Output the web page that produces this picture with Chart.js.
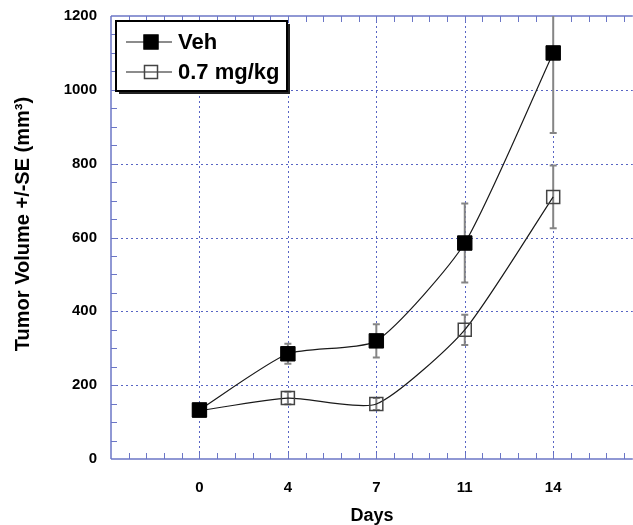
<!DOCTYPE html>
<html>
<head>
<meta charset="utf-8">
<script src="https://cdn.jsdelivr.net/npm/chart.js@4.4.1/dist/chart.umd.min.js"></script>
<style>
  html, body { margin: 0; padding: 0; background: #fff; overflow: hidden; }
  #wrap { width: 644px; height: 528px; position: relative; }
</style>
</head>
<body>
<div id="wrap"><canvas id="chart"></canvas></div>
<script>
const days = ['0', '4', '7', '11', '14'];
const vehMean = [133, 285, 320, 585, 1100];
const vehSE = [8, 27, 45, 107, 217];
const lowMean = [131, 165, 149, 350, 710];
const lowSE = [8, 17, 16, 41, 85];
const yTicks = [0, 200, 400, 600, 800, 1000, 1200];
const yTitle = 'Tumor Volume +/-SE (mm³)';

const FONT = "'Liberation Sans', Arial, Helvetica, sans-serif";
const AXIS_COLOR = '#6b76c6';
const GRID_COLOR = '#5865c4';

function line(ctx, x1, y1, x2, y2) {
  ctx.beginPath();
  ctx.moveTo(x1, y1);
  ctx.lineTo(x2, y2);
  ctx.stroke();
}

// dotted grid, axis frame with inward ticks, error bars
const framePlugin = {
  id: 'frame',
  beforeDatasetsDraw(chart) {
    const { ctx, chartArea: a, scales: { x, y } } = chart;
    ctx.save();

    ctx.strokeStyle = GRID_COLOR;
    ctx.lineWidth = 1;
    ctx.setLineDash([2, 3]);
    days.forEach((d, i) => {
      const px = Math.round(x.getPixelForValue(i)) + 0.5;
      line(ctx, px, a.top, px, a.bottom);
    });
    yTicks.forEach((v) => {
      if (v <= y.min || v >= y.max) return;
      const py = Math.round(y.getPixelForValue(v)) + 0.5;
      line(ctx, a.left, py, a.right, py);
    });
    ctx.setLineDash([]);

    ctx.strokeStyle = AXIS_COLOR;
    ctx.lineWidth = 1.5;
    line(ctx, a.left, a.top, a.right, a.top);
    line(ctx, a.left, a.bottom, a.right, a.bottom);
    line(ctx, a.left, a.top, a.left, a.bottom);

    ctx.lineWidth = 1;
    for (let k = -4; k <= 24; k++) {
      const px = Math.round(x.getPixelForValue(k / 5)) + 0.5;
      line(ctx, px, a.bottom, px, a.bottom - 6);
      line(ctx, px, a.top, px, a.top + 6);
    }
    for (let k = 1; k <= 23; k++) {
      const py = Math.round(y.getPixelForValue(k * 50)) + 0.5;
      line(ctx, a.left, py, a.left + 6, py);
    }

    ctx.beginPath();
    ctx.rect(a.left, a.top, a.right - a.left, a.bottom - a.top);
    ctx.clip();
    ctx.strokeStyle = '#858585';
    ctx.lineWidth = 2;
    [[lowMean, lowSE], [vehMean, vehSE]].forEach(([mean, se]) => {
      mean.forEach((m, i) => {
        const px = x.getPixelForValue(i);
        const top = y.getPixelForValue(m + se[i]);
        const bot = y.getPixelForValue(m - se[i]);
        line(ctx, px, top, px, bot);
        line(ctx, px - 3.5, top, px + 3.5, top);
        line(ctx, px - 3.5, bot, px + 3.5, bot);
      });
    });
    ctx.restore();
  }
};

// boxed legend with drop shadow, plus the rotated y title
const legendPlugin = {
  id: 'boxLegend',
  afterDraw(chart) {
    const { ctx, chartArea: a } = chart;
    const bx = a.left + 5, by = a.top + 5, bw = 171, bh = 70;
    ctx.save();
    ctx.fillStyle = '#222';
    ctx.fillRect(bx + 3, by + 3, bw, bh);
    ctx.fillStyle = '#fff';
    ctx.fillRect(bx, by, bw, bh);
    ctx.strokeStyle = '#000';
    ctx.lineWidth = 2;
    ctx.strokeRect(bx, by, bw, bh);

    chart.data.datasets.forEach((ds, i) => {
      const cy = by + 21 + i * 30;
      ctx.strokeStyle = ds.borderColor;
      ctx.lineWidth = 1.2;
      line(ctx, bx + 10, cy, bx + 56, cy);
      const s = ds.pointRadius * Math.SQRT2;
      ctx.fillStyle = ds.pointBackgroundColor;
      ctx.fillRect(bx + 35 - s / 2, cy - s / 2, s, s);
      ctx.strokeStyle = ds.pointBorderColor;
      ctx.lineWidth = ds.pointBorderWidth;
      ctx.strokeRect(bx + 35 - s / 2, cy - s / 2, s, s);
      ctx.fillStyle = '#000';
      ctx.font = `bold 22px ${FONT}`;
      ctx.textBaseline = 'middle';
      ctx.fillText(ds.label, bx + 62, cy + 1);
    });

    ctx.translate(23, 224);
    ctx.rotate(-Math.PI / 2);
    ctx.font = `bold 20px ${FONT}`;
    ctx.textAlign = 'center';
    ctx.textBaseline = 'middle';
    ctx.fillText(yTitle, 0, 0);
    ctx.restore();
  }
};

new Chart(document.getElementById('chart'), {
  type: 'line',
  data: {
    datasets: [
      {
        label: 'Veh',
        data: vehMean.map((v, i) => ({ x: i, y: v })),
        borderColor: '#1a1a1a',
        borderWidth: 1.2,
        tension: 0.2,
        pointStyle: 'rect',
        pointRadius: 10.2,
        pointBackgroundColor: '#000',
        pointBorderColor: '#000',
        pointBorderWidth: 1,
      },
      {
        label: '0.7 mg/kg',
        data: lowMean.map((v, i) => ({ x: i, y: v })),
        borderColor: '#1a1a1a',
        borderWidth: 1.2,
        tension: 0.2,
        pointStyle: 'rect',
        pointRadius: 9.2,
        pointBackgroundColor: 'rgba(0,0,0,0)',
        pointBorderColor: '#444',
        pointBorderWidth: 1.5,
      },
    ],
  },
  options: {
    responsive: true,
    maintainAspectRatio: false,
    animation: false,
    layout: { padding: { top: 16, right: 0, left: 0, bottom: 0 } },
    plugins: { legend: { display: false }, tooltip: { enabled: false } },
    scales: {
      x: {
        type: 'linear',
        min: -1,
        max: 4.9,
        grid: { display: false, tickLength: 20 },
        border: { display: false },
        afterFit(s) { s.height = 69; },
        ticks: {
          stepSize: 1,
          autoSkip: false,
          padding: 0,
          color: '#000',
          font: { family: FONT, size: 15, weight: 'bold' },
          callback: (v) => days[v] ?? '',
        },
        title: {
          display: true,
          text: 'Days',
          color: '#000',
          font: { family: FONT, size: 18, weight: 'bold' },
          padding: { top: 0, bottom: 1 },
        },
      },
      y: {
        min: 0,
        max: 1200,
        grid: { display: false, tickLength: 14 },
        border: { display: false },
        afterFit(s) { s.width = 111; },
        ticks: {
          stepSize: 200,
          padding: 0,
          color: '#000',
          font: { family: FONT, size: 15, weight: 'bold' },
          callback: (v) => String(v),
        },
      },
    },
  },
  plugins: [framePlugin, legendPlugin],
});
</script>
</body>
</html>
